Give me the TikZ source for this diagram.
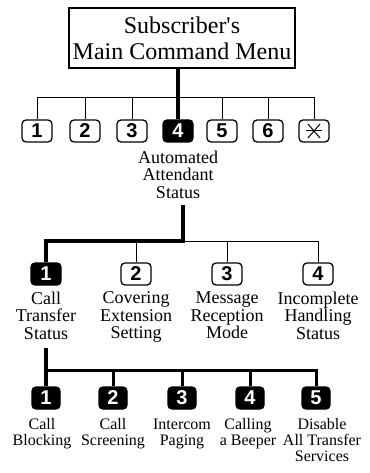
\documentclass[tikz,border=0pt]{standalone}
\usepackage{fontspec}
\setmainfont{Liberation Serif}
\newfontfamily\keyfont{Liberation Sans}
\usetikzlibrary{positioning}
\begin{document}
\begin{tikzpicture}[x=1pt, y=-1pt,
        key/.style={draw, line width=1.3pt, rounded corners=4pt, minimum width=30pt, minimum height=22pt, inner sep=0pt, font=\keyfont\bfseries\fontsize{20}{18}\selectfont},
        keyon/.style={key, fill=black, text=white},
        subkey/.style={keyon, minimum width=28pt},
        lbl/.style={align=center, inner sep=0pt, font=\fontsize{18}{17.5}\selectfont},
        sublbl/.style={lbl, font=\fontsize{16}{16}\selectfont},
        wire/.style={line width=1pt},
        midwire/.style={line width=3pt},
        heavy/.style={line width=4.5pt}
    ]
    \useasboundingbox (0,0) rectangle (369,473);
    % main menu and its keys
    \node[draw, line width=1.3pt, minimum width=226pt, minimum height=60pt, inner sep=0pt, align=center, font=\fontsize{24}{26}\selectfont] (menu) at (182,38) {Subscriber\textquotesingle s\\Main Command Menu};
    \foreach \n/\x in {1/37, 2/85, 3/132, 5/222, 6/268}
        \node[key] (k\n) at (\x,131) {\n};
    \node[keyon] (k4) at (178,131) {4};
    \node[key, path picture={
            \draw[line width=1pt] ([shift={(-6pt,-7pt)}]path picture bounding box.center) -- ([shift={(6pt,7pt)}]path picture bounding box.center);
            \draw[line width=1pt] ([shift={(-6pt,7pt)}]path picture bounding box.center) -- ([shift={(6pt,-7pt)}]path picture bounding box.center);
            \draw[line width=1pt] ([shift={(-8pt,0pt)}]path picture bounding box.center) -- ([shift={(8pt,0pt)}]path picture bounding box.center);
        }] (k7) at (314,131) {};
    \coordinate (bus1) at (178,98);
    \draw[wire] (k1.north) -- (k1.north |- bus1) -- (k7.north |- bus1) -- (k7.north);
    \foreach \n in {2,3,5,6}
        \draw[wire] (k\n.north) -- (k\n.north |- bus1);
    \draw[heavy] (menu.south -| k4) -- (k4.north);
    \node[lbl, below=8pt of k4] (aas) {Automated\\Attendant\\Status};

    % automated attendant status
    \node[keyon] (a1) at (46,274) {1};
    \node[key] (a2) at (136,274) {2};
    \node[key] (a3) at (227,274) {3};
    \node[key] (a4) at (318,274) {4};
    \node[lbl, below=6pt of a1] (cts) {Call\\Transfer\\Status};
    \node[lbl, below=6pt of a2] (ces) {Covering\\Extension\\Setting};
    \node[lbl, below=6pt of a3] (mrm) {Message\\Reception\\Mode};
    \node[lbl, below=6pt of a4] (ihs) {Incomplete\\Handling\\Status};
    \coordinate (bus2) at (183,241);
    \draw[heavy] ([yshift=-6pt]aas.south -| bus2) -- (bus2) -| (a1.north);
    \draw[wire] (bus2) -| (a4.north);
    \foreach \n in {2,3}
        \draw[wire] (a\n.north) -- (a\n.north |- bus2);

    % call transfer status
    \node[subkey] (b1) at (46,398) {1};
    \node[subkey] (b2) at (113,398) {2};
    \node[subkey] (b3) at (182,398) {3};
    \node[subkey] (b4) at (250,398) {4};
    \node[subkey] (b5) at (316,398) {5};
    \node[sublbl, below=9pt of b1, xshift=-4pt] (cb) {Call\\Blocking};
    \node[sublbl, below=9pt of b2] (cs) {Call\\Screening};
    \node[sublbl, below=9pt of b3] (ip) {Intercom\\Paging};
    \node[sublbl, below=9pt of b4, xshift=-2pt] (cab) {Calling\\a Beeper};
    \node[sublbl, below=9pt of b5, xshift=6pt] (dts) {Disable\\All Transfer\\Services};
    \coordinate (bus3) at (46,370);
    \draw[midwire, line width=3.5pt] ([yshift=-8pt]cts.south -| b1) -- (b1.north);
    \draw[midwire] (bus3) -| (b5.north);
    \foreach \n in {2,3,4}
        \draw[midwire] (b\n.north) -- (b\n.north |- bus3);
\end{tikzpicture}
\end{document}
